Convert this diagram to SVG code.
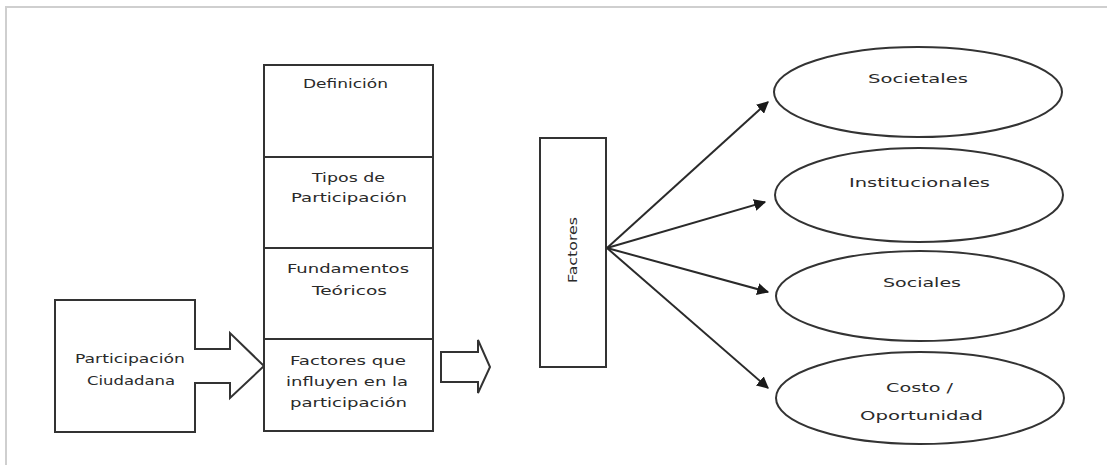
<svg xmlns="http://www.w3.org/2000/svg" width="1107" height="465" viewBox="0 0 1107 465">
<style>
.s{fill:#fff;stroke:#333;stroke-width:2}
.t{font-family:"DejaVu Sans",Verdana,sans-serif;font-size:12px;fill:#2a2a2a}
.c{fill:none;stroke:#2a2a2a;stroke-width:2}
</style>
<defs>
<marker id="ah" viewBox="0 0 10 10" refX="9" refY="5" markerWidth="6" markerHeight="6" markerUnits="strokeWidth" orient="auto">
<path d="M0,0 L10,5 L0,10 Z" fill="#1a1a1a"/>
</marker>
</defs>
<rect x="0" y="0" width="1107" height="465" fill="#fff"/>
<rect x="6" y="7" width="1120" height="480" fill="none" stroke="#cfcfcf" stroke-width="2"/>

<g id="participacion">
<path class="s" d="M55,300 H195 V349 H230 V333 L264,366 L230,398 V383 H195 V432 H55 Z"/>
<text class="t" x="75" y="363" textLength="110" lengthAdjust="spacingAndGlyphs">Participación</text>
<text class="t" x="87" y="385" textLength="88" lengthAdjust="spacingAndGlyphs">Ciudadana</text>
</g>

<g id="columna">
<rect class="s" x="264" y="65" width="169" height="366"/>
<line class="s" x1="264" y1="157" x2="433" y2="157"/>
<line class="s" x1="264" y1="248" x2="433" y2="248"/>
<line class="s" x1="264" y1="339" x2="433" y2="339"/>
</g>
<g id="definicion">
<text class="t" x="303" y="88" textLength="85" lengthAdjust="spacingAndGlyphs">Definición</text>
</g>
<g id="tipos">
<text class="t" x="312" y="182" textLength="73" lengthAdjust="spacingAndGlyphs">Tipos de</text>
<text class="t" x="291" y="202" textLength="116" lengthAdjust="spacingAndGlyphs">Participación</text>
</g>
<g id="fundamentos">
<text class="t" x="287" y="273" textLength="122" lengthAdjust="spacingAndGlyphs">Fundamentos</text>
<text class="t" x="312" y="295" textLength="75" lengthAdjust="spacingAndGlyphs">Teóricos</text>
</g>
<g id="factores-influyen">
<text class="t" x="290" y="365" textLength="116" lengthAdjust="spacingAndGlyphs">Factores que</text>
<text class="t" x="286" y="386" textLength="122" lengthAdjust="spacingAndGlyphs">influyen en la</text>
<text class="t" x="290" y="407" textLength="117" lengthAdjust="spacingAndGlyphs">participación</text>
</g>

<g id="flecha-bloque">
<path class="s" d="M441,352 H478 V340 L490,367 L478,393 V382 H441 Z"/>
</g>

<g id="factores">
<rect class="s" x="540" y="138" width="66" height="229"/>
<text class="t" transform="translate(577,283) rotate(-90)" x="0" y="0" textLength="66" lengthAdjust="spacingAndGlyphs">Factores</text>
</g>

<g id="societales">
<ellipse class="s" cx="918" cy="92" rx="144" ry="45"/>
<text class="t" x="868" y="83" textLength="100" lengthAdjust="spacingAndGlyphs">Societales</text>
</g>
<g id="institucionales">
<ellipse class="s" cx="919" cy="195" rx="144" ry="47"/>
<text class="t" x="849" y="187" textLength="141" lengthAdjust="spacingAndGlyphs">Institucionales</text>
</g>
<g id="sociales">
<ellipse class="s" cx="920" cy="296" rx="144" ry="45"/>
<text class="t" x="883" y="287" textLength="78" lengthAdjust="spacingAndGlyphs">Sociales</text>
</g>
<g id="costo">
<ellipse class="s" cx="920" cy="398" rx="144" ry="46"/>
<text class="t" x="886" y="392" textLength="67" lengthAdjust="spacingAndGlyphs">Costo /</text>
<text class="t" x="860" y="420" textLength="123" lengthAdjust="spacingAndGlyphs">Oportunidad</text>
</g>

<g id="conectores">
<line class="c" x1="607" y1="248" x2="768" y2="102" marker-end="url(#ah)"/>
<line class="c" x1="607" y1="248" x2="765" y2="202" marker-end="url(#ah)"/>
<line class="c" x1="607" y1="248" x2="768" y2="292" marker-end="url(#ah)"/>
<line class="c" x1="607" y1="248" x2="768" y2="388" marker-end="url(#ah)"/>
</g>
</svg>
